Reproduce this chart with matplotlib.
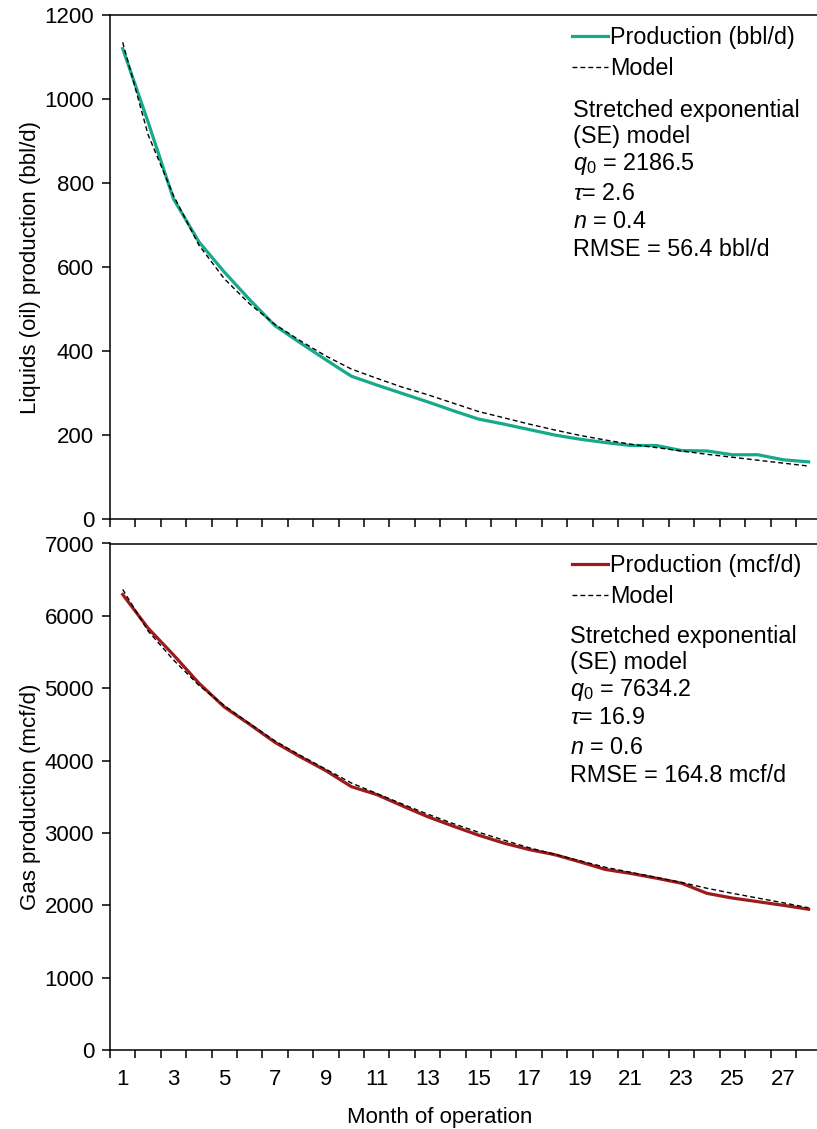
import matplotlib
matplotlib.use("Agg")
import matplotlib.pyplot as plt
from matplotlib.ticker import FixedLocator, NullFormatter, FixedFormatter

plt.rcParams['font.family'] = ['Liberation Sans', 'DejaVu Sans']
plt.rcParams['mathtext.fontset'] = 'custom'
plt.rcParams['mathtext.rm'] = 'Liberation Sans'
plt.rcParams['mathtext.it'] = 'Liberation Sans:italic'

# DATA
months = list(range(1, 29))
oil_prod = [1120, 945, 762, 660, 588, 522, 460, 419, 379, 340, 319, 299, 279, 258, 238,
            226, 213, 200, 190, 182, 175, 175, 163, 162, 153, 153, 141, 136]
oil_model = [1135, 915, 770, 652, 572, 512, 463, 424, 388, 357, 335, 314, 296, 276, 256,
             241, 226, 212, 199, 188, 178, 170, 162, 154, 147, 140, 133, 126]
gas_prod = [6295, 5830, 5460, 5070, 4740, 4500, 4250, 4050, 3860, 3640, 3530, 3375, 3225,
            3095, 2970, 2860, 2770, 2700, 2600, 2495, 2440, 2375, 2305, 2165, 2100, 2050,
            2000, 1945]
gas_model = [6365, 5790, 5390, 5040, 4760, 4510, 4270, 4070, 3880, 3690, 3545, 3400, 3260,
             3130, 3010, 2900, 2795, 2705, 2615, 2525, 2455, 2385, 2315, 2235, 2165, 2100,
             2035, 1965]
oil_yticks = [0, 200, 400, 600, 800, 1000, 1200]
gas_yticks = [0, 1000, 2000, 3000, 4000, 5000, 6000, 7000]
x_labels = [str(m) for m in range(1, 28, 2)]

oil_text = ["Stretched exponential", "(SE) model", r"$q_0$ = 2186.5", r"$\tau$= 2.6",
            r"$n$ = 0.4", "RMSE = 56.4 bbl/d"]
gas_text = ["Stretched exponential", "(SE) model", r"$q_0$ = 7634.2", r"$\tau$= 16.9",
            r"$n$ = 0.6", "RMSE = 164.8 mcf/d"]

W, H = 817, 1129
FS = 16
TFS = 16.8
fig = plt.figure(figsize=(W / 100, H / 100), dpi=100)


def fx(px):
    return px / W


def fy(py):
    return 1 - py / H


ax1 = fig.add_axes([fx(110), fy(519), fx(817 - 110), (519 - 15) / H])
ax2 = fig.add_axes([fx(110), fy(1050), fx(817 - 110), (1050 - 543.5) / H])


def style(ax, yticks, show_x):
    ax.set_xlim(0.5, 28.33)
    ax.set_ylim(yticks[0], yticks[-1])
    ax.set_yticks(yticks)
    ax.spines['right'].set_visible(False)
    for s in ['left', 'top', 'bottom']:
        ax.spines[s].set_linewidth(1.1)
    ax.xaxis.set_minor_locator(FixedLocator([m + 0.5 for m in range(0, 28)]))
    ax.xaxis.set_major_locator(FixedLocator(list(range(1, 28, 2))))
    if show_x:
        ax.xaxis.set_major_formatter(FixedFormatter(x_labels))
    else:
        ax.xaxis.set_major_formatter(NullFormatter())
    ax.tick_params(axis='x', which='major', length=0, labelsize=FS, pad=14)
    ax.tick_params(axis='x', which='minor', length=5.5, width=1.1, direction='out')
    ax.tick_params(axis='y', length=5.5, width=1.1, direction='out', labelsize=FS, pad=6)


style(ax1, oil_yticks, False)
style(ax2, gas_yticks, True)

ax1.plot(months, oil_prod, color='#17A98B', lw=2.3, label='Production (bbl/d)')
ax1.plot(months, oil_model, color='black', lw=1.0, dashes=(3.5, 2.2), label='Model')
ax2.plot(months, gas_prod, color='#9E1B1B', lw=2.3, label='Production (mcf/d)')
ax2.plot(months, gas_model, color='black', lw=1.0, dashes=(3.5, 2.2), label='Model')

ax1.set_ylabel("Liquids (oil) production (bbl/d)", fontsize=FS)
ax2.set_ylabel("Gas production (mcf/d)", fontsize=FS)
ax1.yaxis.set_label_coords(-0.098, 0.5)
ax2.yaxis.set_label_coords(-0.098, 0.5)

fig.text(fx(440), fy(1117), "Month of operation", fontsize=FS, ha='center', va='center')

for ax, top in [(ax1, fy(26)), (ax2, fy(554))]:
    ax.legend(loc='upper left', bbox_to_anchor=(fx(572), top), bbox_transform=fig.transFigure,
              frameon=False, fontsize=TFS, handlelength=1.55, handletextpad=0.1,
              borderpad=0, borderaxespad=0, labelspacing=0.35)

for lines, ys, x0 in [(oil_text, [110, 137, 164, 193, 222, 250], 573),
                      (gas_text, [637, 663, 690, 718, 747, 775], 570)]:
    for t, y in zip(lines, ys):
        fig.text(fx(x0), fy(y), t, fontsize=TFS, ha='left', va='center')

fig.savefig("out.png", dpi=100)
